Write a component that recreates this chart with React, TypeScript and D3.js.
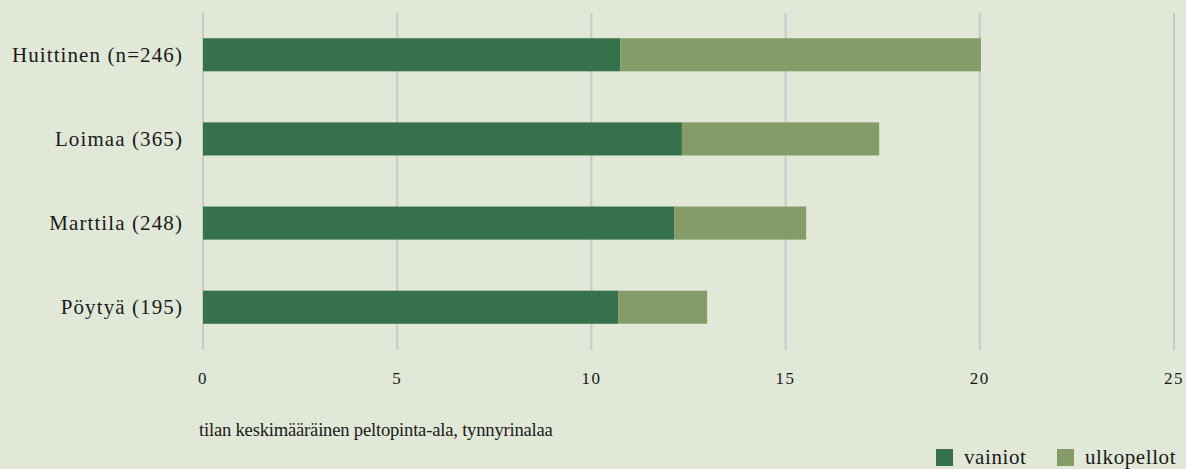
import React from "react";
import * as d3 from "d3";

const categories = ["Huittinen (n=246)", "Loimaa (365)", "Marttila (248)", "Pöytyä (195)"];
const vainiot = [10.75, 12.33, 12.13, 10.69];
const ulkopellot = [9.28, 5.08, 3.4, 2.29];
const ticks = [0, 5, 10, 15, 20, 25];
const seriesNames = ["vainiot", "ulkopellot"];
const colors = ["#35714a", "#859c69"];

export default function App() {
  const W = 1186, H = 469;
  const x = d3.scaleLinear().domain([0, 25]).range([203, 1174]);
  const y = d3.scaleBand().domain(categories).range([13, 349]).paddingInner(0.607).paddingOuter(0.3);
  const font = "'Liberation Serif', 'DejaVu Serif', serif";
  const rows = categories.map((c, i) => ({ c, v: vainiot[i], u: ulkopellot[i] }));
  const legendX = [936, 1057];
  return (
    <svg width={W} height={H} style={{ position: "absolute", left: 0, top: 0 }} fontFamily={font}>
      <rect width={W} height={H} fill="#e1e8d8" />
      {ticks.map((t) => (
        <line key={t} x1={x(t)} x2={x(t)} y1={13} y2={350} stroke="#c9c9c6" strokeWidth={2} />
      ))}
      {rows.map((r) => (
        <g key={r.c}>
          <rect x={x(0)} y={y(r.c)!} width={x(r.v) - x(0)} height={y.bandwidth()} fill={colors[0]} />
          <rect x={x(r.v)} y={y(r.c)!} width={x(r.v + r.u) - x(r.v)} height={y.bandwidth()} fill={colors[1]} />
          <text x={183} y={y(r.c)! + y.bandwidth() / 2} dy="0.34em" textAnchor="end" fontSize={21} letterSpacing={1.1} fill="#1a1a1a">
            {r.c}
          </text>
        </g>
      ))}
      {ticks.map((t) => (
        <text key={t} x={x(t)} y={384} textAnchor="middle" fontSize={17} letterSpacing={1.5} fill="#1a1a1a">
          {t}
        </text>
      ))}
      <text x={199} y={436} fontSize={18.6} letterSpacing={-0.2} fill="#1a1a1a">tilan keskimääräinen peltopinta-ala, tynnyrinalaa</text>
      {seriesNames.map((s, i) => {
        const lx = legendX[i];
        return (
          <g key={s}>
            <rect x={lx} y={449} width={17} height={17} fill={colors[i]} />
            <text x={lx + 28} y={464} fontSize={21} letterSpacing={0.6} fill="#1a1a1a">{s}</text>
          </g>
        );
      })}
    </svg>
  );
}
